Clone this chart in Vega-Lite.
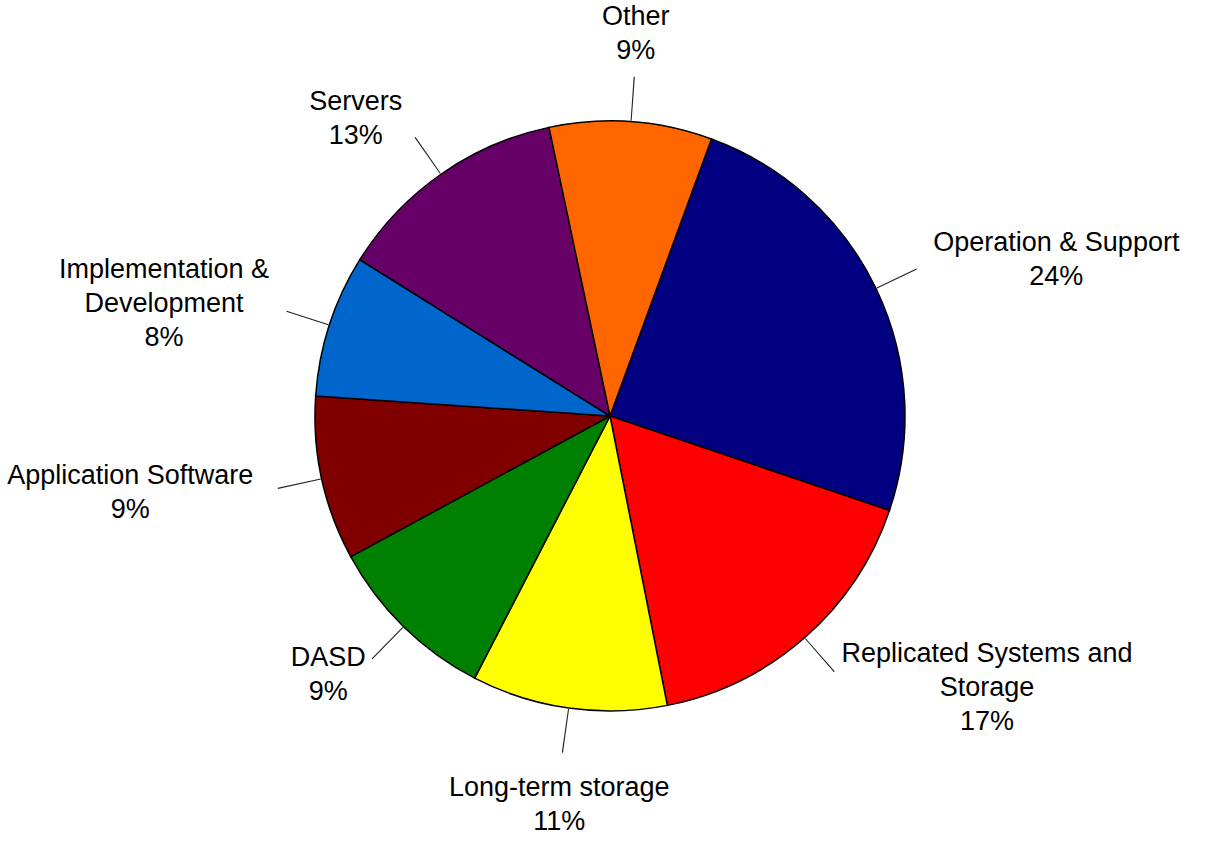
{
  "$schema": "https://vega.github.io/schema/vega-lite/v6.json",
  "autosize": {"type": "none"},
  "width": 1220,
  "height": 832,
  "padding": {"left": 0, "right": 0, "top": 0, "bottom": 12},
  "background": "white",
  "config": {"view": {"stroke": null}},
  "data": {
    "values": [
      {"order": 1, "category": "Operation & Support", "value": 24.6, "label": "Operation & Support\n24%"},
      {"order": 2, "category": "Replicated Systems and Storage", "value": 16.7, "label": "Replicated Systems and\nStorage\n17%"},
      {"order": 3, "category": "Long-term storage", "value": 10.7, "label": "Long-term storage\n11%"},
      {"order": 4, "category": "DASD", "value": 9.5, "label": "DASD\n9%"},
      {"order": 5, "category": "Application Software", "value": 9.0, "label": "Application Software\n9%"},
      {"order": 6, "category": "Implementation & Development", "value": 7.8, "label": "Implementation &\nDevelopment\n8%"},
      {"order": 7, "category": "Servers", "value": 12.8, "label": "Servers\n13%"},
      {"order": 8, "category": "Other", "value": 8.9, "label": "Other\n9%"}
    ]
  },
  "transform": [
    {"window": [{"op": "sum", "field": "value", "as": "cum"}], "sort": [{"field": "order", "order": "ascending"}], "frame": [null, 0]},
    {"calculate": "datum.cum - datum.value / 2", "as": "mid"},
    {"calculate": "0.351 + 2 * PI * datum.mid / 100", "as": "ang"},
    {"calculate": "datum.mid - 0.028", "as": "t1"},
    {"calculate": "datum.mid + 0.028", "as": "t2"},
    {"calculate": "split(datum.label, '\\n')", "as": "lines"},
    {"calculate": "max(length(datum.lines[0]), datum.lines.length > 1 ? length(datum.lines[1]) : 0, datum.lines.length > 2 ? length(datum.lines[2]) : 0)", "as": "maxlen"}
  ],
  "layer": [
    {
      "mark": {"type": "arc", "radius": 295, "stroke": "#000000", "strokeWidth": 1.5},
      "encoding": {
        "theta": {"field": "value", "type": "quantitative", "stack": true, "scale": {"domain": [0, 100], "range": [0.351, 6.63419]}},
        "order": {"field": "order", "type": "quantitative"},
        "color": {
          "field": "category",
          "type": "nominal",
          "legend": null,
          "scale": {
            "domain": ["Operation & Support", "Replicated Systems and Storage", "Long-term storage", "DASD", "Application Software", "Implementation & Development", "Servers", "Other"],
            "range": ["#000080", "#FF0000", "#FFFF00", "#008000", "#800000", "#0066CC", "#660066", "#FF6600"]
          }
        }
      }
    },
    {
      "mark": {"type": "arc", "radius": 340, "radius2": 296, "fill": "#222222"},
      "encoding": {
        "theta": {"field": "t1", "type": "quantitative", "stack": null},
        "theta2": {"field": "t2"}
      }
    },
    {
      "mark": {
        "type": "text",
        "radius": 362,
        "font": "Liberation Sans",
        "fontSize": 27,
        "lineHeight": 34,
        "lineBreak": "\n",
        "fill": "#000000",
        "align": "center",
        "baseline": "middle",
        "dx": {"expr": "sin(datum.ang) > 0.5 ? datum.maxlen * 6.1 + 4 : (sin(datum.ang) < -0.5 ? -datum.maxlen * 6.1 - 4 : 0)"},
        "dy": {"expr": "cos(datum.ang) > 0.87 ? -(datum.lines.length - 1) * 34 - 4 : (cos(datum.ang) < -0.87 ? 14 : -(datum.lines.length - 1) * 17)"}
      },
      "encoding": {
        "theta": {"field": "mid", "type": "quantitative", "stack": null},
        "text": {"field": "label", "type": "nominal"}
      }
    }
  ]
}
